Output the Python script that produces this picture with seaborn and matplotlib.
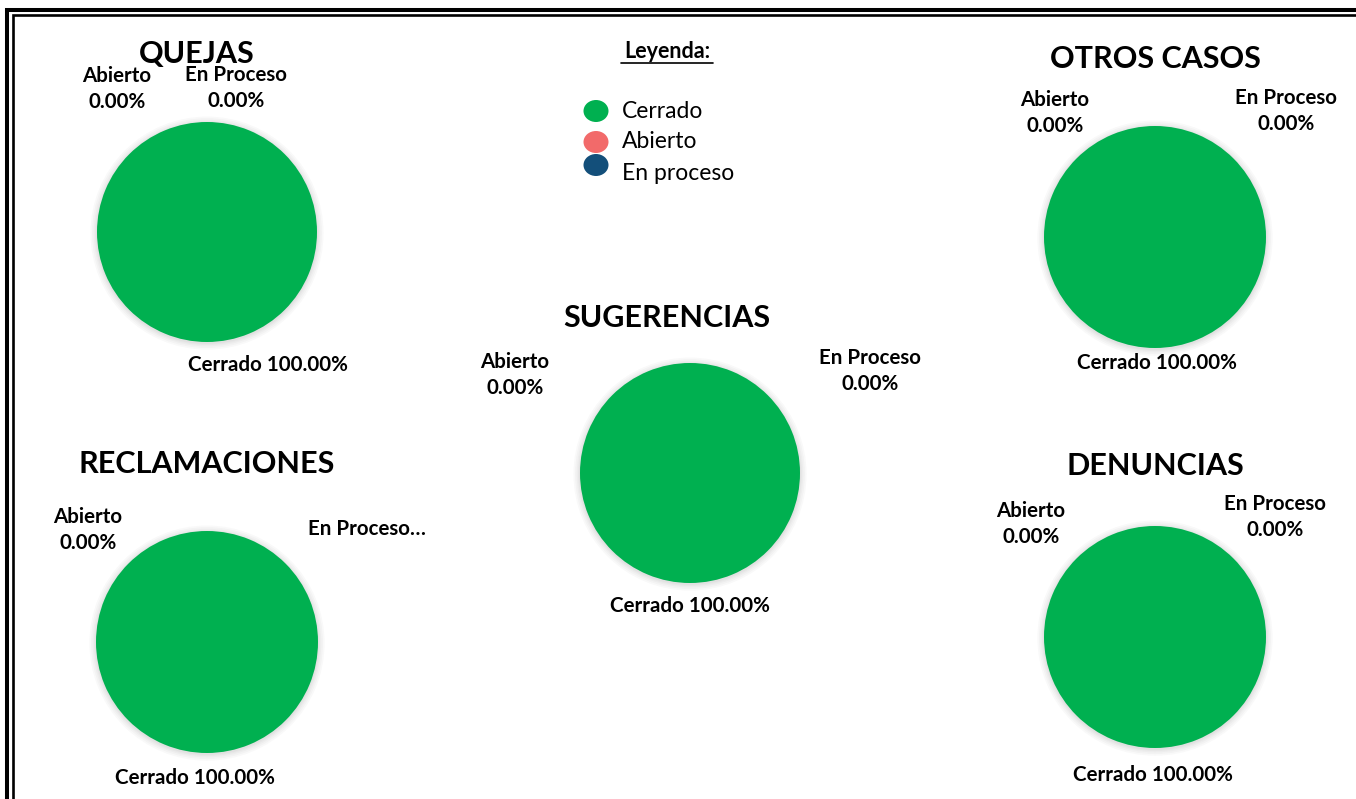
import matplotlib
matplotlib.use("Agg")
import matplotlib.pyplot as plt
import matplotlib.patches as mpatches
import seaborn as sns

# datos
categorias = ["Cerrado", "Abierto", "En Proceso"]
leyenda_textos = ["Cerrado", "Abierto", "En proceso"]
titulos = ["QUEJAS", "OTROS CASOS", "SUGERENCIAS", "RECLAMACIONES", "DENUNCIAS"]
cerrado = [100.0, 100.0, 100.0, 100.0, 100.0]
abierto = [0.0, 0.0, 0.0, 0.0, 0.0]
en_proceso = [0.0, 0.0, 0.0, 0.0, 0.0]

colores = ["#00B050", "#F26A6A", "#134F7A"]

W, H = 1356, 799

# layout en pixeles: centro del pie, radio, titulo, etiquetas
layout = {
    "QUEJAS": dict(c=(207, 232), r=110, t=(197, 54),
                   ab=(117, 89), ep=(236, 88), ce=(268, 365)),
    "OTROS CASOS": dict(c=(1155, 237), r=111, t=(1155, 59),
                        ab=(1055, 113), ep=(1286, 111), ce=(1157, 363)),
    "SUGERENCIAS": dict(c=(690, 473), r=110, t=(667, 318),
                        ab=(515, 375), ep=(870, 371), ce=(690, 606)),
    "RECLAMACIONES": dict(c=(207, 642), r=111, t=(207, 464),
                          ab=(88, 530), ep=(367, 529), ce=(195, 778)),
    "DENUNCIAS": dict(c=(1155, 637), r=111, t=(1155, 466),
                      ab=(1031, 524), ep=(1275, 517), ce=(1153, 775)),
}

sns.set_theme(style="white")
plt.rcParams["font.family"] = ["Lato", "DejaVu Sans"]
plt.rcParams["text.color"] = "black"

fig = plt.figure(figsize=(W / 100, H / 100), dpi=100)
fig.patch.set_facecolor("white")


def px(x, y):
    return x / W, 1 - y / H


def fmt(v):
    return f"{v:.2f}%"


fs_lab = 14.8
for i, titulo in enumerate(titulos):
    lay = layout[titulo]
    cx, cy = lay["c"]
    r = lay["r"]
    m = 10
    ax = fig.add_axes([(cx - r - m) / W, 1 - (cy + r + m) / H,
                       2 * (r + m) / W, 2 * (r + m) / H])
    lim = (r + m) / r
    # sombra suave
    for k in [1.06, 1.045, 1.03, 1.018, 1.008]:
        ax.add_patch(mpatches.Circle((0.0, -0.01), k, color="black", alpha=0.025, lw=0))
    valores = [cerrado[i], abierto[i], en_proceso[i]]
    ax.pie(valores, colors=colores, startangle=90, counterclock=False,
           radius=1, wedgeprops=dict(linewidth=0))
    ax.set_xlim(-lim, lim)
    ax.set_ylim(-lim, lim)
    ax.set_aspect("equal")
    ax.axis("off")

    x, y = px(*lay["t"])
    fig.text(x, y, titulo, ha="center", va="center", fontsize=22, fontweight="bold")
    x, y = px(*lay["ab"])
    fig.text(x, y, f"{categorias[1]}\n{fmt(abierto[i])}", ha="center", va="center",
             fontsize=fs_lab, fontweight="bold", linespacing=1.32)
    x, y = px(*lay["ep"])
    if titulo == "RECLAMACIONES":
        fig.text(x, y, f"{categorias[2]}…", ha="center", va="center",
                 fontsize=fs_lab, fontweight="bold")
    else:
        fig.text(x, y, f"{categorias[2]}\n{fmt(en_proceso[i])}", ha="center", va="center",
                 fontsize=fs_lab, fontweight="bold", linespacing=1.32)
    x, y = px(*lay["ce"])
    fig.text(x, y, f"{categorias[0]} {fmt(cerrado[i])}", ha="center", va="center",
             fontsize=fs_lab, fontweight="bold")

# leyenda
x, y = px(667, 52)
fig.text(x, y, "Leyenda:", ha="center", va="center", fontsize=15.5, fontweight="bold")
fig.add_artist(plt.Line2D([621 / W, 713 / W], [1 - 63 / H, 1 - 63 / H],
                          color="black", lw=1.2, transform=fig.transFigure))
ley_y = [111, 142, 165]
txt_y = [112, 142, 173]
for col, lab, my, ty in zip(colores, leyenda_textos, ley_y, txt_y):
    mx, myf = px(596, my)
    fig.add_artist(mpatches.Ellipse((mx, myf), 25 / W, 22 / H, color=col,
                                    transform=fig.transFigure, lw=0))
    tx, tyf = px(622, ty)
    fig.text(tx, tyf, lab, ha="left", va="center", fontsize=16.5)

# marco doble
fig.add_artist(mpatches.Rectangle((7 / W, -0.1), 1.2, 1.1 - 10 / H, fill=False,
                                  edgecolor="black", lw=2.9, transform=fig.transFigure))
fig.add_artist(mpatches.Rectangle((12.5 / W, -0.1), 1.2, 1.1 - 15 / H, fill=False,
                                  edgecolor="black", lw=1.9, transform=fig.transFigure))

fig.savefig("out.png", dpi=100, facecolor="white")
